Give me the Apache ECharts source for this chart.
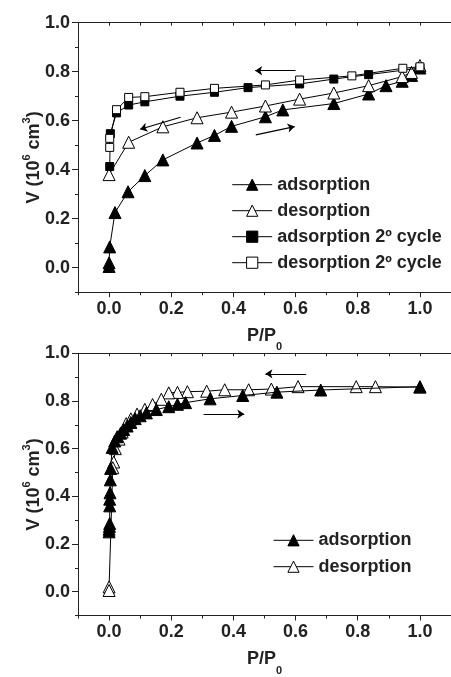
<!DOCTYPE html>
<html><head><meta charset="utf-8">
<script src="https://cdn.jsdelivr.net/npm/echarts@6/dist/echarts.min.js"></script>
<style>html,body{margin:0;padding:0;background:#fff}#c{width:451px;height:677px}</style>
</head><body><div id="c"></div>
<script>
// ---- axes ----
const xMajorTicks = [0, 0.2, 0.4, 0.6, 0.8, 1.0];
const yMajorTicks = [0, 0.2, 0.4, 0.6, 0.8, 1.0];
const xMin = -0.1, xMax = 1.1;
const yMin = -0.1, yMax = 1.0;
const minorStep = 0.1;

// ---- top panel ----
const topAdsorption = [[0,0.005],[0,0.02],[0.002,0.085],[0.019,0.225],[0.061,0.31],[0.115,0.376],[0.173,0.44],[0.283,0.509],[0.339,0.54],[0.394,0.577],[0.503,0.616],[0.559,0.644],[0.723,0.67],[0.835,0.709],[0.891,0.743],[0.943,0.761],[0.973,0.785],[1.0,0.815]];
const topDesorption = [[1.0,0.825],[0.973,0.797],[0.943,0.78],[0.835,0.743],[0.723,0.713],[0.613,0.688],[0.503,0.66],[0.394,0.635],[0.283,0.612],[0.173,0.575],[0.063,0.512],[0,0.38]];
const topAdsorption2 = [[0.002,0.413],[0.004,0.547],[0.024,0.632],[0.063,0.664],[0.115,0.677],[0.228,0.70],[0.339,0.716],[0.447,0.735],[0.613,0.75],[0.723,0.77],[0.835,0.788],[1.0,0.815]];
const topDesorption2 = [[1.0,0.82],[0.945,0.814],[0.781,0.783],[0.613,0.766],[0.503,0.746],[0.339,0.732],[0.228,0.716],[0.115,0.698],[0.063,0.695],[0.024,0.645],[0.002,0.528],[0.002,0.491]];
const topArrows = [
  [[0.60,0.804],[0.47,0.804]],
  [[0.23,0.614],[0.10,0.565]],
  [[0.472,0.542],[0.597,0.576]]
];
const topLegend = ['adsorption','desorption','adsorption 2º cycle','desorption 2º cycle'];

// ---- bottom panel ----
const botAdsorption = [[0,0.251],[0,0.262],[0.001,0.274],[0.002,0.286],[0.002,0.36],[0.002,0.388],[0.003,0.415],[0.004,0.469],[0.005,0.517],[0.01,0.605],[0.018,0.632],[0.026,0.65],[0.037,0.665],[0.047,0.68],[0.058,0.695],[0.07,0.71],[0.084,0.726],[0.1,0.738],[0.12,0.75],[0.152,0.764],[0.192,0.776],[0.22,0.786],[0.246,0.793],[0.325,0.809],[0.43,0.823],[0.54,0.837],[0.681,0.846],[1.0,0.86]];
const botDesorption = [[1.0,0.858],[0.857,0.86],[0.795,0.86],[0.608,0.86],[0.522,0.85],[0.449,0.847],[0.372,0.847],[0.314,0.841],[0.252,0.839],[0.22,0.836],[0.192,0.834],[0.168,0.807],[0.14,0.785],[0.115,0.765],[0.09,0.745],[0.07,0.725],[0.055,0.705],[0.042,0.67],[0.032,0.64],[0.02,0.60],[0.015,0.544],[0.012,0.52],[0,0.02],[0,0.005]];
const botArrows = [
  [[0.634,0.914],[0.503,0.914]],
  [[0.304,0.745],[0.435,0.745]]
];
const botLegend = ['adsorption','desorption'];

const FONT = '"Liberation Sans", Arial, sans-serif';
const INK = '#222';

const gridLeft = 78, gridW = 381.6, gridH = 269.5;
const grids = [
  {left: gridLeft, top: 22.7, width: gridW, height: gridH},
  {left: gridLeft, top: 353.3, width: gridW, height: gridH}
];

const xAxes = [], yAxes = [];
grids.forEach((g, gi) => {
  xAxes.push({
    gridIndex: gi, type: 'value', position: 'bottom', min: xMin, max: xMax,
    axisLine: {show: true, onZero: false, lineStyle: {color: INK, width: 1}},
    axisTick: {show: true, length: 5, customValues: xMajorTicks, lineStyle: {color: INK}},
    axisLabel: {show: true, customValues: xMajorTicks, margin: 8,
      formatter: v => v.toFixed(1), fontFamily: FONT, fontWeight: 'bold', fontSize: 18, color: INK},
    splitLine: {show: false},
    name: 'P/P{sub|0}', nameLocation: 'middle', nameGap: 35, nameMoveOverlap: false,
    nameTextStyle: {fontFamily: FONT, fontWeight: 'bold', fontSize: 18, color: INK, lineHeight: 18,
      rich: {sub: {fontFamily: FONT, fontWeight: 'bold', fontSize: 11, color: INK, lineHeight: 11, padding: [22,0,0,0]}}}
  });
  xAxes.push({
    gridIndex: gi, type: 'value', position: 'bottom', min: xMin, max: xMax, interval: minorStep,
    axisLine: {show: false, onZero: false},
    axisTick: {show: true, length: 3, lineStyle: {color: INK}},
    axisLabel: {show: false}, splitLine: {show: false}
  });
  xAxes.push({
    gridIndex: gi, type: 'value', position: 'top', min: xMin, max: xMax, interval: minorStep,
    axisLine: {show: true, onZero: false, lineStyle: {color: INK, width: 1}},
    axisTick: {show: true, inside: true, length: 3, lineStyle: {color: INK}},
    axisLabel: {show: false}, splitLine: {show: false}
  });
  yAxes.push({
    gridIndex: gi, type: 'value', position: 'left', min: yMin, max: yMax,
    axisLine: {show: true, onZero: false, lineStyle: {color: INK, width: 1}},
    axisTick: {show: true, length: 6, customValues: yMajorTicks, lineStyle: {color: INK}},
    axisLabel: {show: true, customValues: yMajorTicks, margin: 8,
      formatter: v => v.toFixed(1), fontFamily: FONT, fontWeight: 'bold', fontSize: 18, color: INK},
    splitLine: {show: false},
    name: 'V (10{sup|6} cm{sup|3})', nameLocation: 'middle', nameGap: 35, nameMoveOverlap: false,
    nameTextStyle: {fontFamily: FONT, fontWeight: 'bold', fontSize: 18, color: INK, lineHeight: 18,
      rich: {sup: {fontFamily: FONT, fontWeight: 'bold', fontSize: 11, color: INK, lineHeight: 11, padding: [0,0,14,0]}}}
  });
  yAxes.push({
    gridIndex: gi, type: 'value', position: 'left', min: yMin, max: yMax, interval: minorStep,
    axisLine: {show: false, onZero: false},
    axisTick: {show: true, length: 3, lineStyle: {color: INK}},
    axisLabel: {show: false}, splitLine: {show: false}
  });
});

function lineSeries(name, data, symbol, filled, size, xi, yi, z) {
  return {
    type: 'line', name, data, xAxisIndex: xi, yAxisIndex: yi, z,
    symbol, symbolSize: size, showSymbol: true,
    lineStyle: {color: '#000', width: 1},
    itemStyle: {color: filled ? '#000' : '#fff', borderColor: '#000', borderWidth: 1},
    emphasis: {disabled: true}, animation: false
  };
}
function arrowSeries(arr, xi, yi) {
  return {
    type: 'lines', coordinateSystem: 'cartesian2d', xAxisIndex: xi, yAxisIndex: yi,
    data: arr.map(c => ({coords: c})), symbol: ['none', 'arrow'], symbolSize: [0, 7],
    lineStyle: {color: '#000', width: 1.2, opacity: 1}, silent: true, z: 5
  };
}

const series = [
  lineSeries(topLegend[0], topAdsorption, 'triangle', true, 12, 0, 0, 2),
  lineSeries(topLegend[1], topDesorption, 'triangle', false, 12, 0, 0, 3),
  lineSeries(topLegend[2], topAdsorption2, 'rect', true, 8, 0, 0, 4),
  lineSeries(topLegend[3], topDesorption2, 'rect', false, 8, 0, 0, 5),
  arrowSeries(topArrows, 0, 0),
  lineSeries(botLegend[0], botAdsorption, 'triangle', true, 12, 3, 2, 3),
  lineSeries(botLegend[1], botDesorption, 'triangle', false, 12, 3, 2, 2),
  arrowSeries(botArrows, 3, 2)
];

const legendText = {fontFamily: FONT, fontWeight: 'bold', fontSize: 18, color: INK};
const option = {
  animation: false,
  backgroundColor: '#fff',
  grid: grids,
  xAxis: xAxes,
  yAxis: yAxes,
  legend: [
    {data: topLegend, orient: 'vertical', left: 231.7, top: 175.7, padding: 0, itemWidth: 40, itemHeight: 14, itemGap: 8,
     itemStyle: {borderColor: '#000', borderWidth: 1}, lineStyle: {color: '#000', width: 1}, textStyle: legendText, selectedMode: false},
    {data: botLegend, orient: 'vertical', left: 273, top: 531.3, padding: 0, itemWidth: 40, itemHeight: 14, itemGap: 8.4,
     itemStyle: {borderColor: '#000', borderWidth: 1}, lineStyle: {color: '#000', width: 1}, textStyle: legendText, selectedMode: false}
  ],
  series
};
const chart = echarts.init(document.getElementById('c'), null, {renderer: 'canvas'});
chart.setOption(option);
</script></body></html>
